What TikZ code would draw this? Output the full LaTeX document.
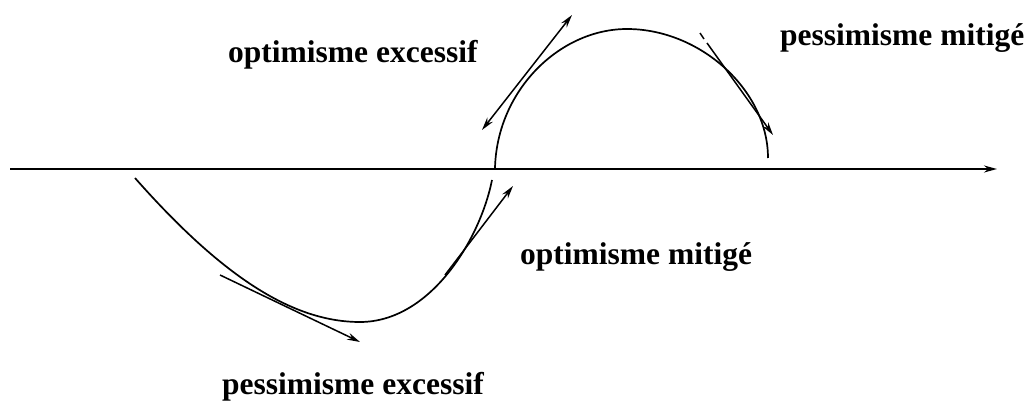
\documentclass[tikz,border=0pt]{standalone}
\usepackage{fontspec}
\setmainfont{Liberation Serif}
\usetikzlibrary{arrows.meta}
\begin{document}
\begin{tikzpicture}[x=1pt,y=-1pt,
  curve/.style={line width=1.7pt},
  tang/.style={line width=1.5pt},
  tip/.style={-{Stealth[length=13pt,width=7pt]}},
  lab/.style={font=\bfseries\fontsize{31.5}{36}\selectfont, inner sep=0pt, anchor=base west}]
\useasboundingbox (0,0) rectangle (1026,403);
% axis
\coordinate (ax0) at (10,169);
\coordinate (ax1) at (997,169);
\draw[line width=1.7pt, tip] (ax0) -- (ax1);
% upper arc
\coordinate (u0) at (495,168);
\coordinate (utop) at (627,29);
\coordinate (u1) at (768,158);
\draw[curve] (u0) .. controls (497,90) and (560,29) .. (utop)
  .. controls (700,29) and (768,90) .. (u1);
% lower curve
\coordinate (l0) at (135,178);
\coordinate (lbot) at (360,322);
\coordinate (l1) at (492,180);
\draw[curve] (l0) .. controls (225,280) and (295,322) .. (lbot)
  .. controls (430,322) and (480,240) .. (l1);
% tangent arrows
\coordinate (a1s) at (482,130);
\coordinate (a1e) at (572,15);
\draw[tang, {Stealth[length=13pt,width=7pt]}-{Stealth[length=13pt,width=7pt]}] (a1s) -- (a1e);
\coordinate (a2p) at (700,33);
\coordinate (a2q) at (704,39);
\coordinate (a2s) at (707,43);
\coordinate (a2e) at (773,135);
\draw[tang] (a2p) -- (a2q);
\draw[tang, tip] (a2s) -- (a2e);
\coordinate (a3s) at (220,275);
\coordinate (a3e) at (360,342);
\draw[tang, tip] (a3s) -- (a3e);
\coordinate (a4s) at (445,275);
\coordinate (a4e) at (513,186);
\draw[tang, tip] (a4s) -- (a4e);
% labels
\node[lab] (oe) at (228,63) {optimisme excessif};
\node[lab] (pm) at (780,46) {pessimisme mitigé};
\node[lab] (om) at (520,265) {optimisme mitigé};
\node[lab] (pe) at (222,395) {pessimisme excessif};
\end{tikzpicture}
\end{document}
